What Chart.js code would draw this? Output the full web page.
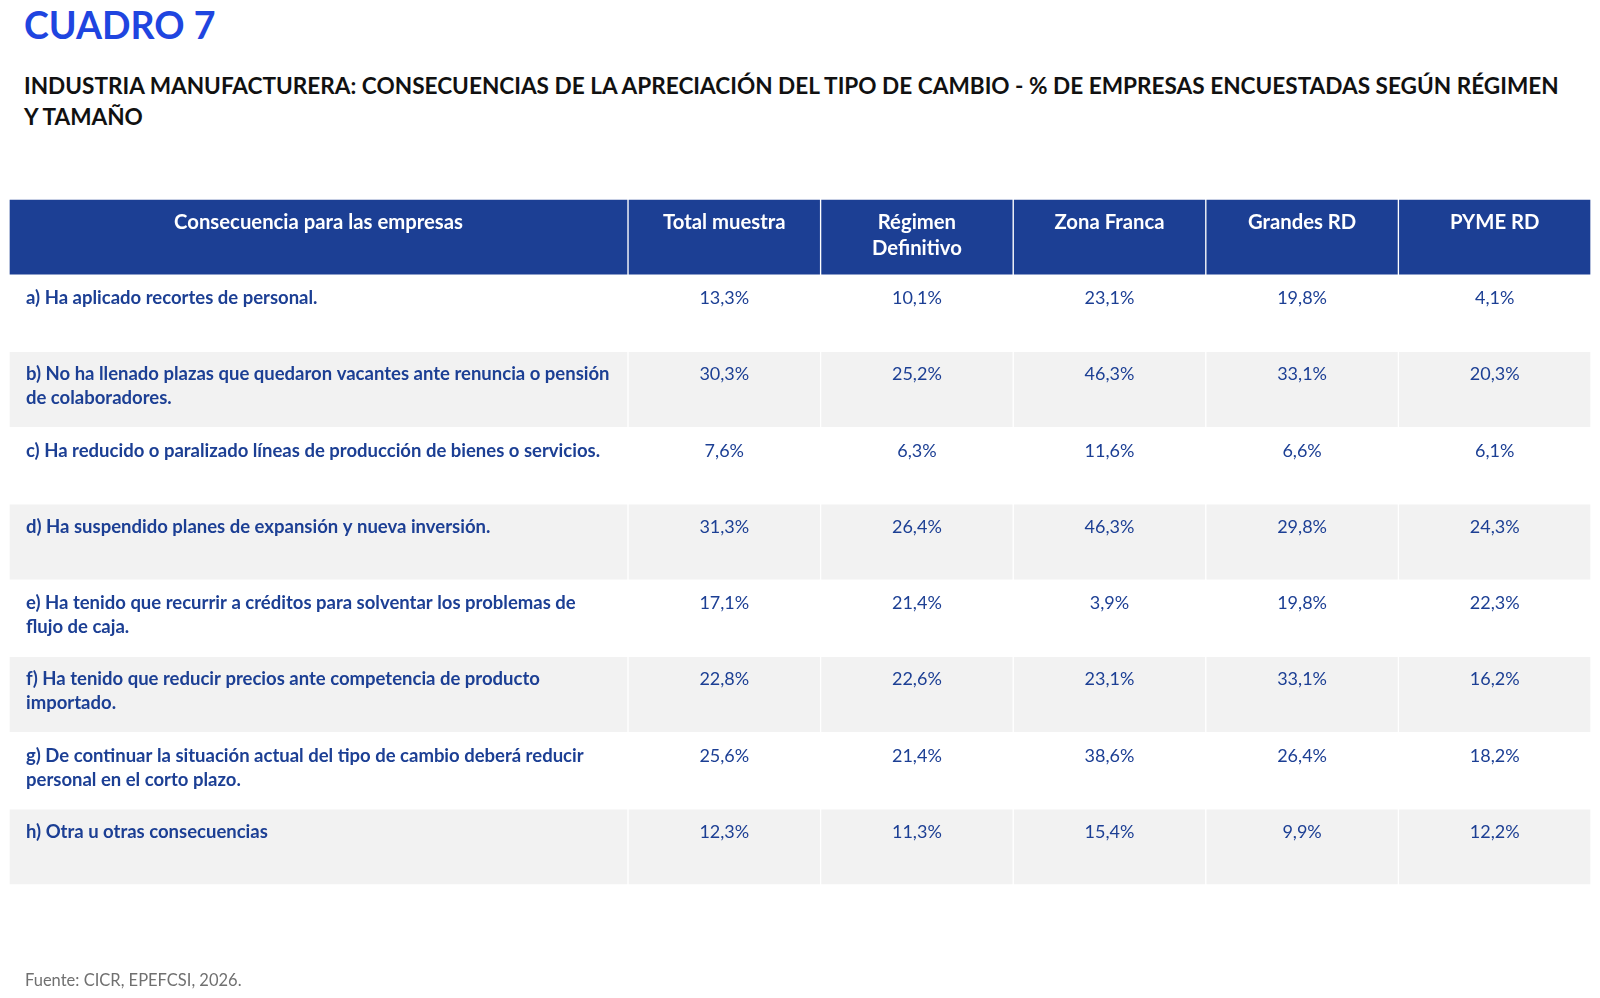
<!DOCTYPE html>
<html lang="es">
<head>
    <meta charset="UTF-8" />
    <title>Cuadro 7</title>
    <script src="https://cdn.jsdelivr.net/npm/chart.js"></script>
    <style>
        body { margin: 0; background: #fff; font-family: Lato, "Noto Sans", sans-serif; }
        #lienzo { position: absolute; left: 0; top: 0; width: 1600px; height: 998px; }
        #titulo { position: absolute; left: 24px; top: 6px; font-size: 37.5px; line-height: 38px; font-weight: 700; color: #1f45e0; }
        #subtitulo { position: absolute; left: 24px; top: 70px; width: 1570px; font-size: 22.6px; line-height: 31px; font-weight: 700; color: #111; white-space: nowrap; }
        #fuente { position: absolute; left: 25px; top: 972px; font-size: 16.5px; line-height: 16px; color: #707070; }
    </style>
</head>
<body>
<div id="titulo">CUADRO 7</div>
<div id="subtitulo">INDUSTRIA MANUFACTURERA: CONSECUENCIAS DE LA APRECIACIÓN DEL TIPO DE CAMBIO - % DE EMPRESAS ENCUESTADAS SEGÚN RÉGIMEN<br>Y TAMAÑO</div>
<canvas id="lienzo" width="1600" height="998"></canvas>
<div id="fuente">Fuente: CICR, EPEFCSI, 2026.</div>

<script>
    // Datos del cuadro
    const columnas = [
        'Consecuencia para las empresas',
        'Total muestra',
        ['Régimen', 'Definitivo'],
        'Zona Franca',
        'Grandes RD',
        'PYME RD'
    ];
    const consecuencias = [
        'a) Ha aplicado recortes de personal.',
        ['b) No ha llenado plazas que quedaron vacantes ante renuncia o pensión', 'de colaboradores.'],
        'c) Ha reducido o paralizado líneas de producción de bienes o servicios.',
        'd) Ha suspendido planes de expansión y nueva inversión.',
        ['e) Ha tenido que recurrir a créditos para solventar los problemas de', 'flujo de caja.'],
        ['f) Ha tenido que reducir precios ante competencia de producto', 'importado.'],
        ['g) De continuar la situación actual del tipo de cambio deberá reducir', 'personal en el corto plazo.'],
        'h) Otra u otras consecuencias'
    ];
    const totalMuestra      = [13.3, 30.3, 7.6, 31.3, 17.1, 22.8, 25.6, 12.3];
    const regimenDefinitivo = [10.1, 25.2, 6.3, 26.4, 21.4, 22.6, 21.4, 11.3];
    const zonaFranca        = [23.1, 46.3, 11.6, 46.3, 3.9, 23.1, 38.6, 15.4];
    const grandesRD         = [19.8, 33.1, 6.6, 29.8, 19.8, 33.1, 26.4, 9.9];
    const pymeRD            = [4.1, 20.3, 6.1, 24.3, 22.3, 16.2, 18.2, 12.2];

    const series = [totalMuestra, regimenDefinitivo, zonaFranca, grandesRD, pymeRD];

    // Disposición (px del área de dibujo)
    const bordes = [0, 619, 811.6, 1004.2, 1196.8, 1389.4, 1582];
    const azulCabecera = '#1c3f94';
    const azulTexto = '#1c3f94';
    const gris = '#f2f2f2';

    const filas = ['cabecera'].concat(consecuencias.map((c, i) => 'fila' + i));

    function colorFila(i) {
        if (i === 0) return azulCabecera;
        return i % 2 === 0 ? gris : '#ffffff';
    }

    function formato(v) {
        return v.toFixed(1).replace('.', ',') + '%';
    }

    // Una serie de barras flotantes por columna: cada barra es una celda
    const datasets = columnas.map((col, c) => ({
        label: Array.isArray(col) ? col.join(' ') : col,
        data: filas.map(() => [bordes[c], bordes[c + 1]]),
        backgroundColor: filas.map((f, i) => colorFila(i)),
        borderColor: '#ffffff',
        borderWidth: 1,
        borderSkipped: false,
        grouped: false,
        categoryPercentage: 1,
        barPercentage: 1
    }));

    const textosCuadro = {
        id: 'textosCuadro',
        afterDatasetsDraw(chart) {
            const ctx = chart.ctx;
            const x = chart.scales.x;
            const y = chart.scales.y;
            const paso = y.getPixelForValue(1) - y.getPixelForValue(0);
            const arriba = (i) => y.getPixelForValue(i) - paso / 2;
            const centro = (c) => x.getPixelForValue((bordes[c] + bordes[c + 1]) / 2);
            const lineas = (t) => Array.isArray(t) ? t : [t];

            ctx.save();
            ctx.textBaseline = 'alphabetic';

            // Cabecera
            ctx.fillStyle = '#ffffff';
            ctx.font = 'bold 20.3px Lato';
            ctx.textAlign = 'center';
            columnas.forEach((col, c) => {
                lineas(col).forEach((l, k) => {
                    ctx.fillText(l, centro(c), arriba(0) + 30 + k * 26);
                });
            });

            // Etiquetas de filas
            ctx.fillStyle = azulTexto;
            ctx.font = 'bold 18.5px Lato';
            ctx.textAlign = 'left';
            const izq = x.getPixelForValue(bordes[0]) + 17;
            consecuencias.forEach((t, r) => {
                lineas(t).forEach((l, k) => {
                    ctx.fillText(l, izq, arriba(r + 1) + 29 + k * 24);
                });
            });

            // Valores
            ctx.font = '18px Lato';
            ctx.textAlign = 'center';
            series.forEach((s, c) => {
                s.forEach((v, r) => {
                    ctx.fillText(formato(v), centro(c + 1), arriba(r + 1) + 29);
                });
            });
            ctx.restore();
        }
    };

    new Chart(document.getElementById('lienzo'), {
        type: 'bar',
        data: { labels: filas, datasets: datasets },
        options: {
            indexAxis: 'y',
            responsive: false,
            animation: false,
            events: [],
            layout: { padding: { left: 9, right: 9, top: 199, bottom: 113 } },
            plugins: { legend: { display: false }, tooltip: { enabled: false } },
            scales: {
                x: { type: 'linear', min: 0, max: 1582, display: false },
                y: { type: 'category', display: false }
            }
        },
        plugins: [textosCuadro]
    });
</script>
</body>
</html>
